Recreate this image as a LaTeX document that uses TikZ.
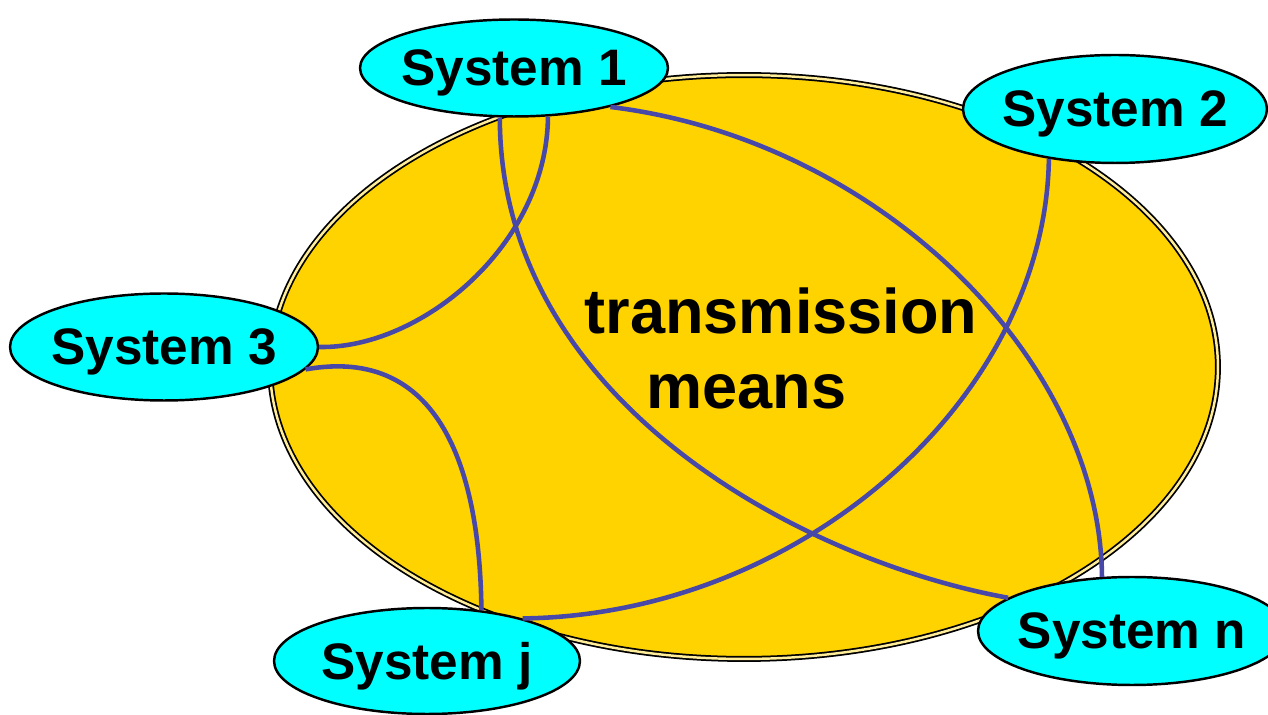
\documentclass[tikz,border=0pt]{standalone}
\usepackage{fontspec}
\setmainfont{Liberation Sans}
\usetikzlibrary{shapes.geometric}

\definecolor{sysblue}{RGB}{0,255,255}
\definecolor{meansyellow}{RGB}{255,211,0}
\definecolor{linkblue}{RGB}{72,72,168}

\newcommand{\syslabel}[1]{\makebox[0pt]{#1}}

\tikzstyle{sys} = [ellipse, draw=black, line width=1.4pt, fill=sysblue, inner sep=0pt, text depth=0pt, font=\fontsize{29.2}{34}\selectfont\bfseries]
\tikzstyle{link} = [draw=linkblue, line width=2.6pt]

\begin{document}
\begin{tikzpicture}[x=0.02cm, y=-0.02cm]
\useasboundingbox (0,0) rectangle (1268,715);
\node [ellipse, draw=black, line width=1pt, double=meansyellow!40!white, double distance=1.4pt, fill=meansyellow, minimum width=18.96cm, minimum height=11.68cm] (tm) at (744,367) {};
\node [align=center, font=\fontsize{35.9}{42.7}\selectfont\bfseries] (tmtext) at (781,348) {transmission\\means\hspace*{1.1em}};

\node [sys, minimum width=6.16cm, minimum height=1.94cm] (s1) at (514,68) {\syslabel{System 1}};
\node [sys, minimum width=6.08cm, minimum height=2.16cm] (s2) at (1115,109) {\syslabel{System 2}};
\node [sys, minimum width=6.16cm, minimum height=2.14cm] (s3) at (164,347) {\syslabel{System 3}};
\node [sys, minimum width=6.12cm, minimum height=2.12cm] (sj) at (427,661) {\syslabel{System j}};
\node [sys, minimum width=6.16cm, minimum height=2.16cm] (sn) at (1132,631) {\syslabel{System n}};

\draw [link] (s1.-55) .. controls (547,245) and (421,349) .. (s3.east);
\draw [link] (s1.-106) .. controls (500,400) and (800,560) .. (sn.165);
\draw [link] (s1.-22) .. controls (880,140) and (1100,360) .. (sn.119);
\draw [link] (s2.-143) .. controls (1045,400) and (800,615) .. (sj.24);
\draw [link] (s3.-9) .. controls (440,345) and (480,470) .. (sj.43);
\end{tikzpicture}
\end{document}
